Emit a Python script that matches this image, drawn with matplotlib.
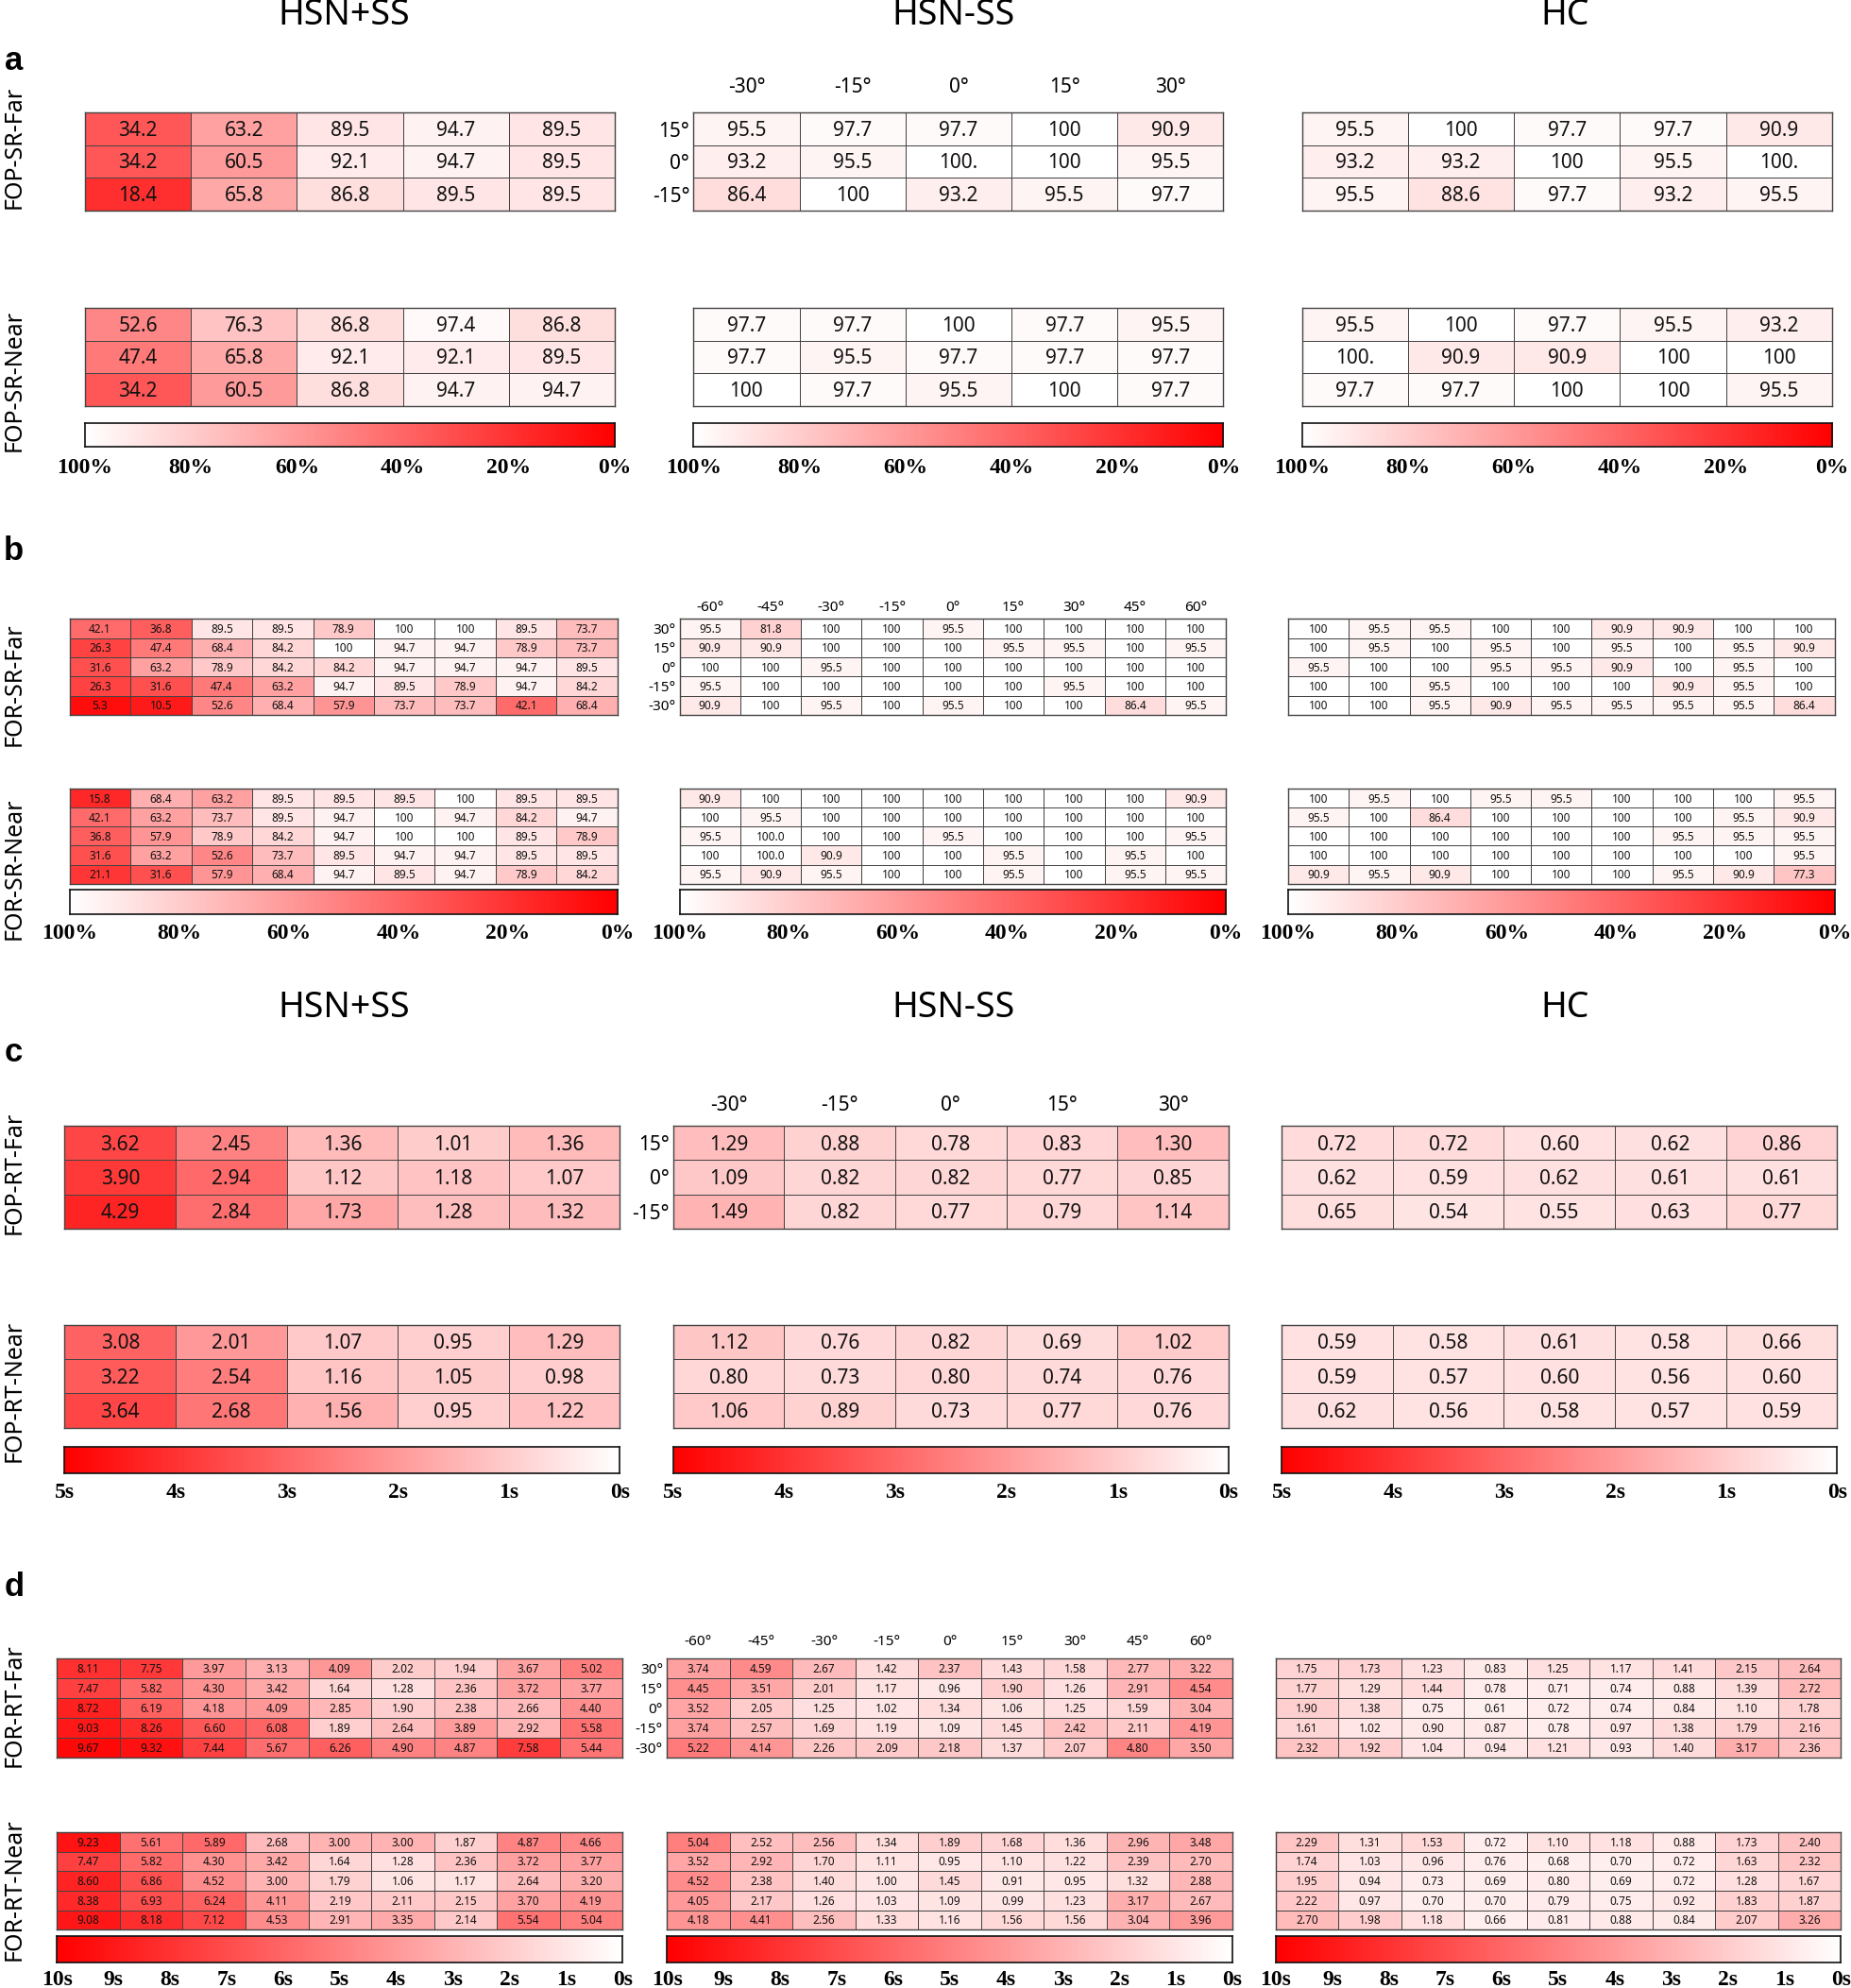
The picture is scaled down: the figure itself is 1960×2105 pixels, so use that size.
import numpy as np
import matplotlib
matplotlib.use('Agg')
import matplotlib.pyplot as plt
from matplotlib.colors import LinearSegmentedColormap

plt.rcParams['font.family'] = ['Noto Sans', 'DejaVu Sans']

groups = ['HSN+SS', 'HSN-SS', 'HC']
az5 = ['-30°', '-15°', '0°', '15°', '30°']
el3 = ['15°', '0°', '-15°']
az9 = ['-60°', '-45°', '-30°', '-15°', '0°', '15°', '30°', '45°', '60°']
el5 = ['30°', '15°', '0°', '-15°', '-30°']

sr_ticks = [100, 80, 60, 40, 20, 0]
sr_labels = ['100%', '80%', '60%', '40%', '20%', '0%']
rt5_ticks = [5, 4, 3, 2, 1, 0]
rt5_labels = ['5s', '4s', '3s', '2s', '1s', '0s']
rt10_ticks = [10, 9, 8, 7, 6, 5, 4, 3, 2, 1, 0]
rt10_labels = ['10s', '9s', '8s', '7s', '6s', '5s', '4s', '3s', '2s', '1s', '0s']

# ---- a: FOP success rate (%) ----
fop_sr_far = ["""
34.2 63.2 89.5 94.7 89.5
34.2 60.5 92.1 94.7 89.5
18.4 65.8 86.8 89.5 89.5
""", """
95.5 97.7 97.7 100 90.9
93.2 95.5 100. 100 95.5
86.4 100 93.2 95.5 97.7
""", """
95.5 100 97.7 97.7 90.9
93.2 93.2 100 95.5 100.
95.5 88.6 97.7 93.2 95.5
"""]
fop_sr_near = ["""
52.6 76.3 86.8 97.4 86.8
47.4 65.8 92.1 92.1 89.5
34.2 60.5 86.8 94.7 94.7
""", """
97.7 97.7 100 97.7 95.5
97.7 95.5 97.7 97.7 97.7
100 97.7 95.5 100 97.7
""", """
95.5 100 97.7 95.5 93.2
100. 90.9 90.9 100 100
97.7 97.7 100 100 95.5
"""]

# ---- b: FOR success rate (%) ----
for_sr_far = ["""
42.1 36.8 89.5 89.5 78.9 100 100 89.5 73.7
26.3 47.4 68.4 84.2 100 94.7 94.7 78.9 73.7
31.6 63.2 78.9 84.2 84.2 94.7 94.7 94.7 89.5
26.3 31.6 47.4 63.2 94.7 89.5 78.9 94.7 84.2
5.3 10.5 52.6 68.4 57.9 73.7 73.7 42.1 68.4
""", """
95.5 81.8 100 100 95.5 100 100 100 100
90.9 90.9 100 100 100 95.5 95.5 100 95.5
100 100 95.5 100 100 100 100 100 100
95.5 100 100 100 100 100 95.5 100 100
90.9 100 95.5 100 95.5 100 100 86.4 95.5
""", """
100 95.5 95.5 100 100 90.9 90.9 100 100
100 95.5 100 95.5 100 95.5 100 95.5 90.9
95.5 100 100 95.5 95.5 90.9 100 95.5 100
100 100 95.5 100 100 100 90.9 95.5 100
100 100 95.5 90.9 95.5 95.5 95.5 95.5 86.4
"""]
for_sr_near = ["""
15.8 68.4 63.2 89.5 89.5 89.5 100 89.5 89.5
42.1 63.2 73.7 89.5 94.7 100 94.7 84.2 94.7
36.8 57.9 78.9 84.2 94.7 100 100 89.5 78.9
31.6 63.2 52.6 73.7 89.5 94.7 94.7 89.5 89.5
21.1 31.6 57.9 68.4 94.7 89.5 94.7 78.9 84.2
""", """
90.9 100 100 100 100 100 100 100 90.9
100 95.5 100 100 100 100 100 100 100
95.5 100.0 100 100 95.5 100 100 100 95.5
100 100.0 90.9 100 100 95.5 100 95.5 100
95.5 90.9 95.5 100 100 95.5 100 95.5 95.5
""", """
100 95.5 100 95.5 95.5 100 100 100 95.5
95.5 100 86.4 100 100 100 100 95.5 90.9
100 100 100 100 100 100 95.5 95.5 95.5
100 100 100 100 100 100 100 100 95.5
90.9 95.5 90.9 100 100 100 95.5 90.9 77.3
"""]

# ---- c: FOP reaction time (s) ----
fop_rt_far = ["""
3.62 2.45 1.36 1.01 1.36
3.90 2.94 1.12 1.18 1.07
4.29 2.84 1.73 1.28 1.32
""", """
1.29 0.88 0.78 0.83 1.30
1.09 0.82 0.82 0.77 0.85
1.49 0.82 0.77 0.79 1.14
""", """
0.72 0.72 0.60 0.62 0.86
0.62 0.59 0.62 0.61 0.61
0.65 0.54 0.55 0.63 0.77
"""]
fop_rt_near = ["""
3.08 2.01 1.07 0.95 1.29
3.22 2.54 1.16 1.05 0.98
3.64 2.68 1.56 0.95 1.22
""", """
1.12 0.76 0.82 0.69 1.02
0.80 0.73 0.80 0.74 0.76
1.06 0.89 0.73 0.77 0.76
""", """
0.59 0.58 0.61 0.58 0.66
0.59 0.57 0.60 0.56 0.60
0.62 0.56 0.58 0.57 0.59
"""]

# ---- d: FOR reaction time (s) ----
for_rt_far = ["""
8.11 7.75 3.97 3.13 4.09 2.02 1.94 3.67 5.02
7.47 5.82 4.30 3.42 1.64 1.28 2.36 3.72 3.77
8.72 6.19 4.18 4.09 2.85 1.90 2.38 2.66 4.40
9.03 8.26 6.60 6.08 1.89 2.64 3.89 2.92 5.58
9.67 9.32 7.44 5.67 6.26 4.90 4.87 7.58 5.44
""", """
3.74 4.59 2.67 1.42 2.37 1.43 1.58 2.77 3.22
4.45 3.51 2.01 1.17 0.96 1.90 1.26 2.91 4.54
3.52 2.05 1.25 1.02 1.34 1.06 1.25 1.59 3.04
3.74 2.57 1.69 1.19 1.09 1.45 2.42 2.11 4.19
5.22 4.14 2.26 2.09 2.18 1.37 2.07 4.80 3.50
""", """
1.75 1.73 1.23 0.83 1.25 1.17 1.41 2.15 2.64
1.77 1.29 1.44 0.78 0.71 0.74 0.88 1.39 2.72
1.90 1.38 0.75 0.61 0.72 0.74 0.84 1.10 1.78
1.61 1.02 0.90 0.87 0.78 0.97 1.38 1.79 2.16
2.32 1.92 1.04 0.94 1.21 0.93 1.40 3.17 2.36
"""]
for_rt_near = ["""
9.23 5.61 5.89 2.68 3.00 3.00 1.87 4.87 4.66
7.47 5.82 4.30 3.42 1.64 1.28 2.36 3.72 3.77
8.60 6.86 4.52 3.00 1.79 1.06 1.17 2.64 3.20
8.38 6.93 6.24 4.11 2.19 2.11 2.15 3.70 4.19
9.08 8.18 7.12 4.53 2.91 3.35 2.14 5.54 5.04
""", """
5.04 2.52 2.56 1.34 1.89 1.68 1.36 2.96 3.48
3.52 2.92 1.70 1.11 0.95 1.10 1.22 2.39 2.70
4.52 2.38 1.40 1.00 1.45 0.91 0.95 1.32 2.88
4.05 2.17 1.26 1.03 1.09 0.99 1.23 3.17 2.67
4.18 4.41 2.56 1.33 1.16 1.56 1.56 3.04 3.96
""", """
2.29 1.31 1.53 0.72 1.10 1.18 0.88 1.73 2.40
1.74 1.03 0.96 0.76 0.68 0.70 0.72 1.63 2.32
1.95 0.94 0.73 0.69 0.80 0.69 0.72 1.28 1.67
2.22 0.97 0.70 0.70 0.79 0.75 0.92 1.83 1.87
2.70 1.98 1.18 0.66 0.81 0.88 0.84 2.07 3.26
"""]

sr_cmap = LinearSegmentedColormap.from_list('sr', ['#ff0000', '#ffffff'])
rt_cmap = LinearSegmentedColormap.from_list('rt', ['#ffffff', '#ff0000'])
EDGE = '#444444'

fig = plt.figure(figsize=(19.6, 21.05), dpi=100)
W, H = 1460, 1568  # layout in reference-preview pixels


def rect(x0, x1, y0, y1):
    return [x0 / W, 1 - y1 / H, (x1 - x0) / W, (y1 - y0) / H]


def parse(block):
    return [row.split() for row in block.strip().splitlines()]


def draw_grid(box, block, cmap, vmax, fs):
    labels = parse(block)
    vals = np.array(labels, dtype=float)
    nr, nc = vals.shape
    ax = fig.add_axes(rect(*box))
    ax.pcolormesh(vals, cmap=cmap, vmin=0, vmax=vmax, edgecolors=EDGE, linewidth=0.7)
    ax.set_xlim(0, nc)
    ax.set_ylim(nr, 0)
    for i in range(nr):
        for j in range(nc):
            ax.text(j + 0.5, i + 0.55, labels[i][j], ha='center', va='center',
                    fontsize=fs, color='#111111')
    ax.set_xticks([])
    ax.set_yticks([])
    for sp in ax.spines.values():
        sp.set_color(EDGE)
        sp.set_linewidth(1.0)
    return ax


def add_axis_labels(ax, cols, rows, fs, toppad, leftpad):
    ax.set_xticks(np.arange(len(cols)) + 0.5)
    ax.set_xticklabels(cols, fontsize=fs)
    ax.xaxis.tick_top()
    ax.set_yticks(np.arange(len(rows)) + 0.5)
    ax.set_yticklabels(rows, fontsize=fs)
    ax.tick_params(axis='x', length=0, pad=toppad)
    ax.tick_params(axis='y', length=0, pad=leftpad)


def draw_bar(box, cmap, vmax, ticks, tlabels, pad):
    cax = fig.add_axes(rect(*box))
    grad = np.linspace(0, vmax, 400)[None, :]
    cax.imshow(grad, cmap=cmap, vmin=0, vmax=vmax, aspect='auto',
               extent=[0, vmax, 0, 1])
    cax.set_xlim(vmax, 0)
    cax.set_yticks([])
    cax.set_xticks(ticks)
    cax.set_xticklabels(tlabels, fontsize=17, fontweight='bold',
                        family=['Liberation Serif', 'DejaVu Serif'])
    cax.tick_params(axis='x', length=0, pad=pad)
    for sp in cax.spines.values():
        sp.set_color('#111111')
        sp.set_linewidth(1.2)


def draw_panel(xs, far_y, near_y, bar_y, far, near, cmap, vmax, cols, rows,
               fs, lab_fs, toppad, ticks, tlabels, barpad):
    for k in range(3):
        x0, x1 = xs[k]
        ax = draw_grid((x0, x1) + far_y, far[k], cmap, vmax, fs)
        if k == 1:
            add_axis_labels(ax, cols, rows, lab_fs, toppad, 3)
        draw_grid((x0, x1) + near_y, near[k], cmap, vmax, fs)
        draw_bar((x0, x1) + bar_y, cmap, vmax, ticks, tlabels, barpad)


def fig_text(x, y, s, **kw):
    fig.text(x / W, 1 - y / H, s, **kw)


# panel a
draw_panel([(67, 485), (547, 965), (1027, 1445)], (89, 166), (243, 320), (334, 352),
           fop_sr_far, fop_sr_near, sr_cmap, 100, az5, el3, 15, 15, 12,
           sr_ticks, sr_labels, 9)
# panel b
draw_panel([(55, 487), (536, 967), (1016, 1447)], (488, 564), (622, 697), (702, 721),
           for_sr_far, for_sr_near, sr_cmap, 100, az9, el5, 8.5, 11, 3,
           sr_ticks, sr_labels, 7)
# panel c
draw_panel([(51, 489), (531, 969), (1011, 1449)], (888, 969), (1045, 1126), (1141, 1162),
           fop_rt_far, fop_rt_near, rt_cmap, 5, az5, el3, 15, 15, 8,
           rt5_ticks, rt5_labels, 7)
# panel d
draw_panel([(45, 491), (526, 972), (1006, 1452)], (1308, 1386), (1445, 1522), (1527, 1548),
           for_rt_far, for_rt_near, rt_cmap, 10, az9, el5, 8.5, 11, 7,
           rt10_ticks, rt10_labels, 6)

# column titles
for y in (12, 795):
    for xc, g in zip((271, 752, 1234), groups):
        fig_text(xc, y, g, ha='center', va='center', fontsize=27)

# panel letters
for y, s in ((48, 'a'), (435, 'b'), (830, 'c'), (1252, 'd')):
    fig_text(11, y, s, ha='center', va='center', fontsize=25, fontweight='bold',
             family=['Liberation Sans', 'DejaVu Sans'])

# row-group labels
for y, s in ((116, 'FOP-SR-Far'), (300, 'FOP-SR-Near'), (540, 'FOR-SR-Far'),
             (685, 'FOR-SR-Near'), (925, 'FOP-RT-Far'), (1097, 'FOP-RT-Near'),
             (1345, 'FOR-RT-Far'), (1490, 'FOR-RT-Near')):
    fig_text(11, y, s, ha='center', va='center', fontsize=18, rotation=90)

fig.savefig('out.png', dpi=100)
